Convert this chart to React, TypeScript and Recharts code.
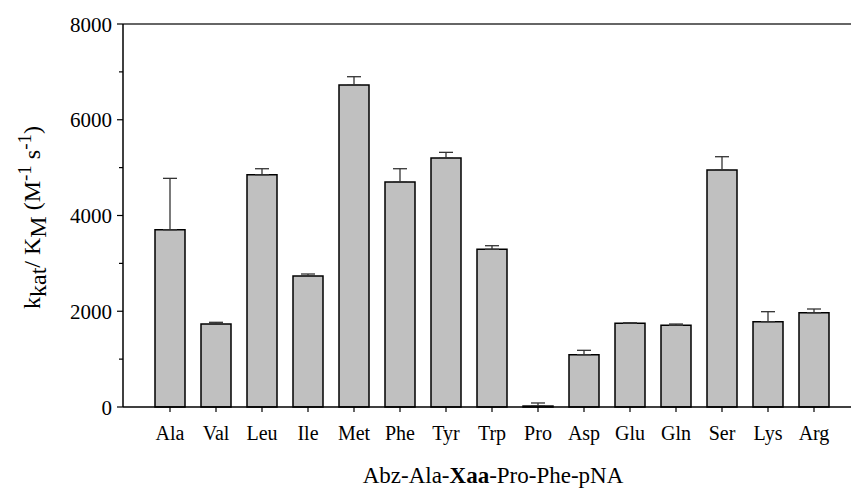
import React from 'react'
import {
  ComposedChart,
  Bar,
  ErrorBar,
  XAxis,
  YAxis,
  ReferenceLine,
  Label,
} from 'recharts'

const residues = ['Ala', 'Val', 'Leu', 'Ile', 'Met', 'Phe', 'Tyr', 'Trp', 'Pro', 'Asp', 'Glu', 'Gln', 'Ser', 'Lys', 'Arg']
const kcatKm = [3703, 1735, 4852, 2736, 6725, 4699, 5200, 3293, 20, 1093, 1750, 1706, 4950, 1782, 1970]
// upper SD only (error bars drawn upward)
const sd = [1073, 34, 125, 42, 174, 278, 119, 76, 64, 91, 8, 27, 278, 209, 77]
const yTicks = [0, 1000, 2000, 3000, 4000, 5000, 6000, 7000, 8000]
const majorTicks = [0, 2000, 4000, 6000, 8000]

const FONT = "Liberation Serif"
const TICK_SIZE = 6
const TICK_MARGIN = 5

const data = residues.map((name, i) => ({ name, value: kcatKm[i], err: [0, sd[i]] }))

function YTick(props: any) {
  const { x, y, payload } = props
  const major = majorTicks.includes(payload.value)
  const axisX = x + TICK_MARGIN + TICK_SIZE
  return (
    <g>
      <line x1={axisX - (major ? TICK_SIZE : 4)} x2={axisX} y1={y} y2={y} stroke="#000" strokeWidth={1.2} />
      {major && (
        <text x={x} y={y} dy="0.36em" textAnchor="end" fontFamily={FONT} fontSize={21} fill="#000">
          {payload.value}
        </text>
      )}
    </g>
  )
}

function YLabel(props: any) {
  const { viewBox } = props
  const cx = viewBox.x + 40
  const cy = viewBox.y + viewBox.height / 2 + 2
  return (
    <text
      x={cx}
      y={cy}
      transform={`rotate(-90, ${cx}, ${cy})`}
      textAnchor="middle"
      fontFamily={FONT}
      fontSize={24}
      fill="#000"
    >
      <tspan>k</tspan>
      <tspan dy={6}>kat</tspan>
      <tspan dy={-6}>/ K</tspan>
      <tspan dy={6}>M</tspan>
      <tspan dy={-6}> (M</tspan>
      <tspan dy={-9} fontSize={19}>-1</tspan>
      <tspan dy={9}> s</tspan>
      <tspan dy={-9} fontSize={19}>-1</tspan>
      <tspan dy={9}>)</tspan>
    </text>
  )
}

function XLabel(props: any) {
  const { viewBox } = props
  const cx = viewBox.x + viewBox.width / 2 + 6
  const cy = viewBox.y + 76
  return (
    <text x={cx} y={cy} textAnchor="middle" fontFamily={FONT} fontSize={23} fill="#000">
      <tspan>Abz-Ala-</tspan>
      <tspan fontWeight="bold">Xaa</tspan>
      <tspan>-Pro-Phe-pNA</tspan>
    </text>
  )
}

export default function App() {
  return (
    <div style={{ position: 'absolute', left: 0, top: 0, background: '#fff' }}>
      <ComposedChart
        width={851}
        height={488}
        data={data}
        margin={{ top: 24, right: 0, bottom: 21, left: 0 }}
      >
        <XAxis
          dataKey="name"
          padding={{ left: 24, right: 14 }}
          height={60}
          axisLine={{ stroke: '#000', strokeWidth: 1.5 }}
          tickLine={{ stroke: '#000', strokeWidth: 1.2 }}
          tickSize={5}
          tickMargin={14}
          tick={{ fontFamily: FONT, fontSize: 20, fill: '#000' }}
          interval={0}
        >
          <Label content={<XLabel />} />
        </XAxis>
        <YAxis
          domain={[0, 8000]}
          ticks={yTicks}
          width={123}
          interval={0}
          axisLine={{ stroke: '#000', strokeWidth: 1.5 }}
          tickLine={false}
          tickSize={TICK_SIZE}
          tickMargin={TICK_MARGIN}
          tick={<YTick />}
        >
          <Label content={<YLabel />} />
        </YAxis>
        <ReferenceLine y={8000} stroke="#333" strokeWidth={1.5} />
        <Bar dataKey="value" barSize={30} fill="#c0c0c0" stroke="#000" strokeWidth={1.5} isAnimationActive={false}>
          <ErrorBar dataKey="err" direction="y" width={7} stroke="#333" strokeWidth={1.3} />
        </Bar>
      </ComposedChart>
    </div>
  )
}
